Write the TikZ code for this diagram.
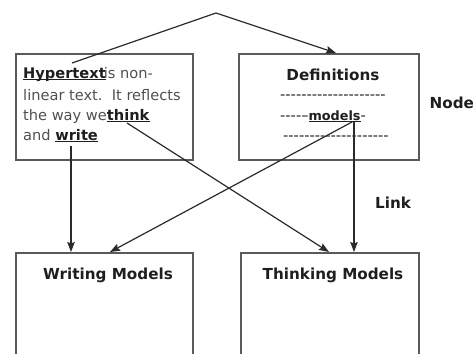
\documentclass[tikz,border=0pt]{standalone}
\usepackage{fontspec}
\newfontfamily\dv{DejaVu Sans}
\usetikzlibrary{arrows.meta}
\definecolor{txtgray}{HTML}{505050}
\definecolor{txtdark}{HTML}{1E1E1E}
\definecolor{boxgray}{HTML}{5A5A5A}
\definecolor{linegray}{HTML}{2A2A2A}
\newcommand\ulw[1]{\setbox0\hbox{#1}\rlap{\rule[-2.2pt]{\wd0}{1.2pt}}\box0}
\def\hx{-{}}
\tikzset{
  box/.style={draw=boxgray, line width=1.6pt, anchor=north west, inner sep=0pt},
  plain/.style={font=\dv\fontsize{14.6}{17}\selectfont, text=txtgray, inner sep=0pt, anchor=base west},
  label/.style={font=\dv\bfseries\fontsize{15.2}{18}\selectfont, text=txtdark, inner sep=0pt, anchor=base},
  dashrow/.style={font=\dv\fontsize{14.6}{17}\selectfont, text=txtdark, inner sep=0pt, anchor=base west},
  link/.style={draw=linegray, line width=1.2pt, -{Stealth[length=10pt,width=7.5pt,inset=1.5pt]}},
  plainline/.style={draw=linegray, line width=1.2pt}
}
\begin{document}
\begin{tikzpicture}[x=1pt,y=-1pt]
\useasboundingbox (0,0) rectangle (475,354);
\clip (0,0) rectangle (475,354);
% boxes
\node[box, minimum width=177pt, minimum height=106pt] (hyp) at (15,53) {};
\node[box, minimum width=180pt, minimum height=106pt] (def) at (238,53) {};
\node[box, minimum width=177pt, minimum height=130pt] (wm) at (15,252) {};
\node[box, minimum width=178pt, minimum height=130pt] (tm) at (240,252) {};
% hypertext text
\node[plain] (h1) at (23,78) {\textcolor{txtdark}{\ulw{\textbf{Hypertext}}}\kern-2pt is non-};
\node[plain] (h2) at (23,100) {linear text.\ \ It reflects};
\node[plain] (h3) at (23,120) {the way we\textcolor{txtdark}{\ulw{\textbf{think}}}};
\node[plain] (h4) at (23,140) {and \textcolor{txtdark}{\ulw{\textbf{write}}}};
% definitions text
\node[label] (dt) at (333,80) {Definitions};
\node[dashrow] (d1) at (280,99.5) {\hx\hx\hx\hx\hx\hx\hx\hx\hx\hx\hx\hx\hx\hx\hx\hx\hx\hx\hx\hx};
\node[dashrow] (d2) at (280,120) {\hx\hx\hx\hx–\ulw{\fontsize{12.8}{15}\selectfont\bfseries models}-};
\node[dashrow] (d3) at (283,140) {\hx\hx\hx\hx\hx\hx\hx\hx\hx\hx\hx\hx\hx\hx\hx\hx\hx\hx\hx\hx};
% bottom labels
\node[label] (wt) at (108,279) {Writing Models};
\node[label] (tt) at (333,279) {Thinking Models};
% side labels
\node[label, anchor=base west] (nd) at (429.5,108.5) {Node};
\node[label, anchor=base west] (lk) at (375,208) {Link};
% connector points
\coordinate (apex) at (216,13);
\coordinate (hs) at (72,63);
\coordinate (ws) at (71,146);
\coordinate (ts) at (127,123);
\coordinate (ms) at (352,122);
\coordinate (ms2) at (354,122);
% connectors
\draw[link] (hs) -- (apex) -- ([xshift=98pt]def.north west);
\draw[link] (ws) -- ([xshift=56pt]wm.north west);
\draw[link] (ts) -- ([xshift=89pt]tm.north west);
\draw[link] (ms) -- ([xshift=95pt]wm.north west);
\draw[link] (ms2) -- ([xshift=114pt]tm.north west);
\end{tikzpicture}
\end{document}
